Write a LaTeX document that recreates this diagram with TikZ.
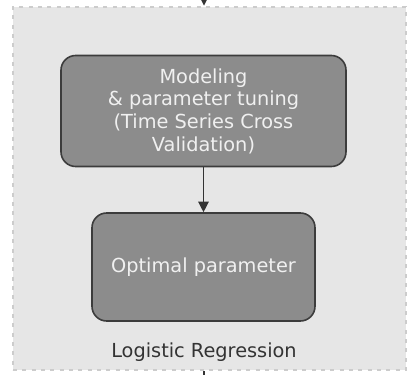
\documentclass[tikz,border=0pt]{standalone}
\usepackage{fontspec}
\setmainfont{DejaVu Sans}
\usetikzlibrary{arrows.meta,positioning}
\definecolor{panelfill}{HTML}{E6E6E6}
\definecolor{paneldash}{HTML}{CCCCCC}
\definecolor{stepfill}{HTML}{8C8C8C}
\definecolor{stepline}{HTML}{3C3C3C}
\definecolor{labeltext}{HTML}{333333}
\tikzset{
  stepbox/.style={draw=stepline, line width=1.2pt, fill=stepfill, rounded corners=11pt,
    text=white!94!black, align=center, font=\fontsize{14.5}{17}\selectfont, inner sep=0pt},
  flow/.style={draw=labeltext, line width=0.9pt, -{Triangle[length=8pt,width=8pt]}}
}
\begin{document}
\begin{tikzpicture}[x=0.75pt,y=-0.75pt]
  \useasboundingbox (0,0) rectangle (408,375);
  % panel
  \node (panel) [draw=paneldash, fill=panelfill, line width=2.2pt, dash pattern=on 3pt off 4pt,
    minimum width=393*0.75pt, minimum height=363*0.75pt, inner sep=0pt] at (209.5,188.5) {};
  \coordinate (top) at (204,0);
  \coordinate (bottom) at (204,375);
  \node (tune) [stepbox, minimum width=285*0.75pt, minimum height=111*0.75pt] at (203.5,111)
    {Modeling\\ \& parameter tuning\\ (Time Series Cross\\ Validation)};
  \node (optimal) [stepbox, minimum width=223*0.75pt, minimum height=108*0.75pt] at (203.5,267)
    {Optimal parameter};
  \node (name) [text=labeltext, font=\fontsize{14.5}{17}\selectfont] at (204,352) {Logistic Regression};
  % connectors
  \draw[flow] (top) -- (top |- panel.north);
  \draw[flow] (tune) -- (optimal);
  \draw[labeltext, line width=0.9pt] (panel.south -| bottom) -- (bottom);
\end{tikzpicture}
\end{document}
